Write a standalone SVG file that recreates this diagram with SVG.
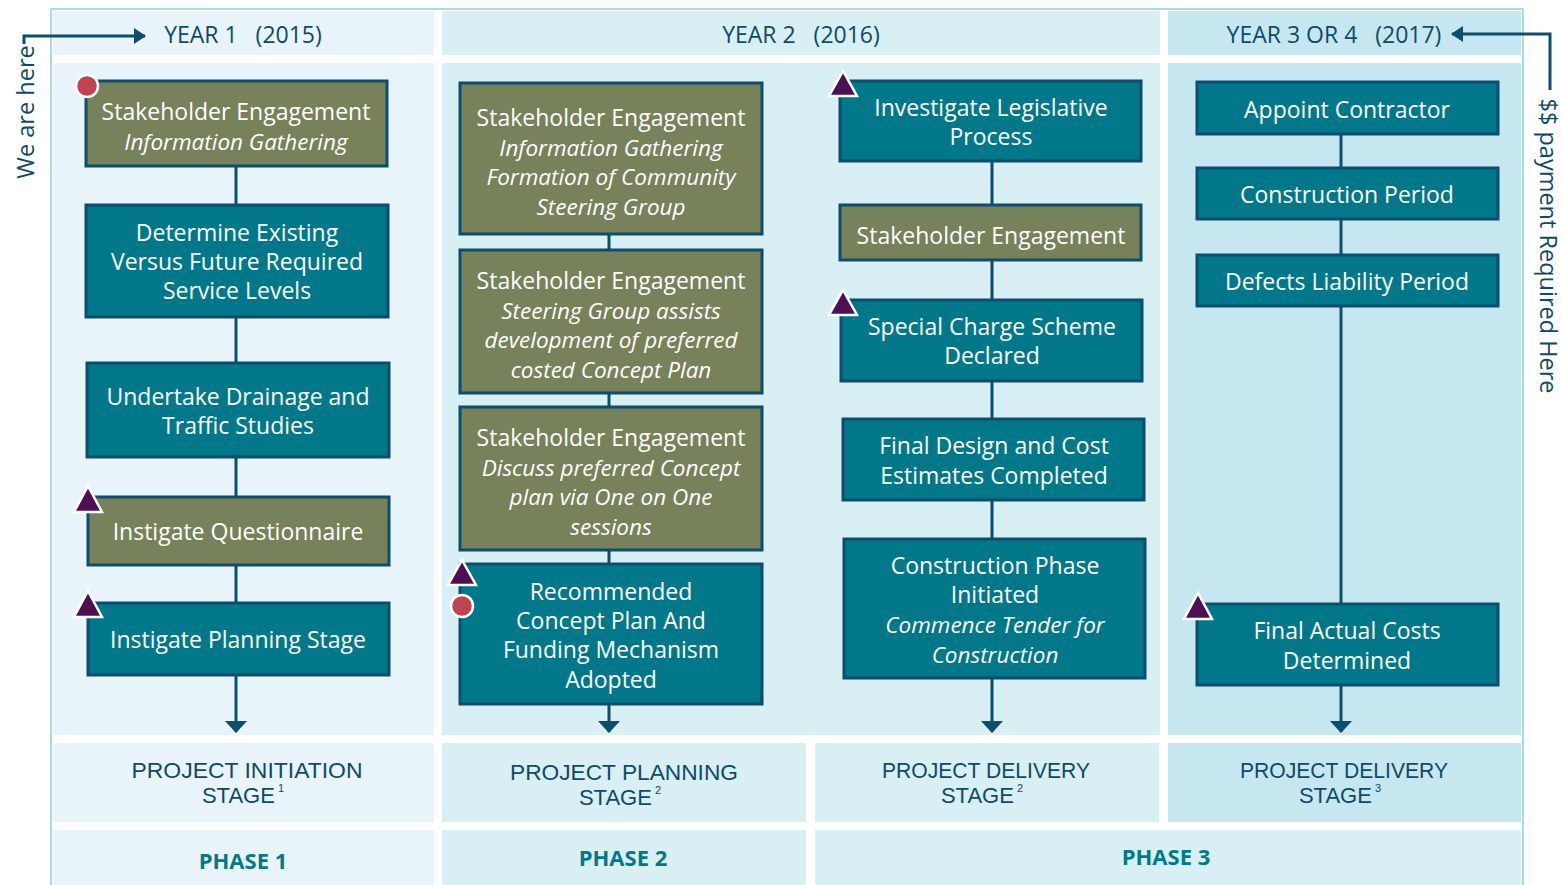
<svg xmlns="http://www.w3.org/2000/svg" width="1562" height="885" viewBox="0 0 1562 885">
<defs>
<style>
.c1{fill:#e8f4fa}.c2{fill:#d8eff4}.c3{fill:#c6e7ef}
.teal{fill:#00788a;stroke:#0d4d6d;stroke-width:3}
.olive{fill:#77815a;stroke:#0d4d6d;stroke-width:3}
.t{font-family:"Open Sans","DejaVu Sans",sans-serif;font-size:23px;fill:#ffffff;text-anchor:middle}
.i{font-style:italic;font-size:22.5px}
.hd{font-family:"Open Sans","DejaVu Sans",sans-serif;font-size:23px;fill:#0d4a6b;text-anchor:middle}
.st{font-family:"Liberation Sans Narrow","Liberation Sans",sans-serif;font-size:22px;fill:#0d4a6b;text-anchor:middle}
.sup{font-size:11px}
.ph{font-family:"Open Sans","DejaVu Sans",sans-serif;font-size:22px;font-weight:bold;fill:#00798b;text-anchor:middle}
.ln{stroke:#0d4d6d;stroke-width:3;fill:none}
.tri{fill:#4f0f55;stroke:#ffffff;stroke-width:2.5;stroke-linejoin:miter}
.dot{fill:#c2434f;stroke:#ffffff;stroke-width:2.5}
</style>
<marker id="ah" viewBox="0 0 12 22" refX="11" refY="11" markerWidth="12" markerHeight="22" markerUnits="userSpaceOnUse" orient="auto">
<path d="M0,0 L12,11 L0,22 Z" fill="#0d4d6d"/>
</marker>
<marker id="ahs" viewBox="0 0 12 16" refX="11" refY="8" markerWidth="12" markerHeight="16" markerUnits="userSpaceOnUse" orient="auto">
<path d="M0,0 L12,8 L0,16 Z" fill="#0d4d6d"/>
</marker>
</defs>
<rect x="0" y="0" width="1562" height="885" fill="#ffffff"/>
<g id="frame">
<rect x="51" y="9" width="1472" height="890" fill="none" stroke="#a8dbe6" stroke-width="2"/>
<rect class="c1" x="53" y="11" width="381" height="44"/>
<rect class="c2" x="442" y="11" width="718" height="44"/>
<rect class="c3" x="1168" y="11" width="353" height="44"/>
<rect class="c1" x="53" y="63" width="381" height="672"/>
<rect class="c2" x="442" y="63" width="718" height="672"/>
<rect class="c3" x="1168" y="63" width="353" height="672"/>
<rect class="c1" x="53" y="743" width="381" height="79"/>
<rect class="c2" x="442" y="743" width="364" height="79"/>
<rect class="c2" x="815" y="743" width="344" height="79"/>
<rect class="c3" x="1168" y="743" width="353" height="79"/>
<rect class="c1" x="53" y="830" width="381" height="55"/>
<rect class="c2" x="442" y="830" width="364" height="55"/>
<rect class="c2" x="815" y="830" width="706" height="55"/>
</g>
<g id="headers">
<text class="hd" x="243" y="43" xml:space="preserve">YEAR 1   (2015)</text>
<text class="hd" x="801" y="43" xml:space="preserve">YEAR 2   (2016)</text>
<text class="hd" x="1334" y="43" xml:space="preserve">YEAR 3 OR 4   (2017)</text>
</g>
<g id="side-notes">
<path class="ln" d="M24,44 V36 H145" stroke-width="2.5" marker-end="url(#ahs)"/>
<text font-family="Open Sans, DejaVu Sans, sans-serif" font-size="23.5" fill="#0d4a6b" text-anchor="middle" transform="translate(34,112) rotate(-90)">We are here</text>
<path class="ln" d="M1550,90 V34 H1452" stroke-width="2.5" marker-end="url(#ahs)"/>
<text font-family="Open Sans, DejaVu Sans, sans-serif" font-size="23.5" fill="#0d4a6b" text-anchor="middle" transform="translate(1540,246) rotate(90)">$$ payment Required Here</text>
</g>
<g id="connectors">
<path class="ln" d="M236,166 V204 M236,317 V362 M236,457 V496 M236,565 V602"/>
<path class="ln" d="M236,675 V732" marker-end="url(#ah)"/>
<path class="ln" d="M609,234 V249 M609,393 V406 M609,550 V563"/>
<path class="ln" d="M609,704 V732" marker-end="url(#ah)"/>
<path class="ln" d="M992,161 V204 M992,260 V299 M992,381 V418 M992,500 V538"/>
<path class="ln" d="M992,678 V732" marker-end="url(#ah)"/>
<path class="ln" d="M1341,134 V167 M1341,219 V254 M1341,306 V603"/>
<path class="ln" d="M1341,685 V732" marker-end="url(#ah)"/>
</g>
<g id="n1"><rect class="olive" x="86" y="81" width="301" height="85"/>
<text class="t" x="236" y="120">Stakeholder Engagement</text>
<text class="t i" x="236" y="150">Information Gathering</text></g>
<g id="n2"><rect class="teal" x="86" y="205" width="302" height="112"/>
<text class="t" x="237" y="241">Determine Existing</text>
<text class="t" x="237" y="270">Versus Future Required</text>
<text class="t" x="237" y="299">Service Levels</text></g>
<g id="n3"><rect class="teal" x="87" y="363" width="302" height="94"/>
<text class="t" x="238" y="405">Undertake Drainage and</text>
<text class="t" x="238" y="434">Traffic Studies</text></g>
<g id="n4"><rect class="olive" x="88" y="497" width="301" height="68"/>
<text class="t" x="238" y="540">Instigate Questionnaire</text></g>
<g id="n5"><rect class="teal" x="88" y="603" width="301" height="72"/>
<text class="t" x="238" y="648">Instigate Planning Stage</text></g>
<g id="n6"><rect class="olive" x="460" y="83" width="302" height="151"/>
<text class="t" x="611" y="126">Stakeholder Engagement</text>
<text class="t i" x="611" y="156">Information Gathering</text>
<text class="t i" x="611" y="185">Formation of Community</text>
<text class="t i" x="611" y="215">Steering Group</text></g>
<g id="n7"><rect class="olive" x="460" y="250" width="302" height="143"/>
<text class="t" x="611" y="289">Stakeholder Engagement</text>
<text class="t i" x="611" y="319">Steering Group assists</text>
<text class="t i" x="611" y="348">development of preferred</text>
<text class="t i" x="611" y="378">costed Concept Plan</text></g>
<g id="n8"><rect class="olive" x="460" y="407" width="302" height="143"/>
<text class="t" x="611" y="446">Stakeholder Engagement</text>
<text class="t i" x="611" y="476">Discuss preferred Concept</text>
<text class="t i" x="611" y="505">plan via One on One</text>
<text class="t i" x="611" y="535">sessions</text></g>
<g id="n9"><rect class="teal" x="460" y="564" width="302" height="140"/>
<text class="t" x="611" y="600">Recommended</text>
<text class="t" x="611" y="629">Concept Plan And</text>
<text class="t" x="611" y="658">Funding Mechanism</text>
<text class="t" x="611" y="688">Adopted</text></g>
<g id="n10"><rect class="teal" x="840" y="81" width="301" height="80"/>
<text class="t" x="991" y="116">Investigate Legislative</text>
<text class="t" x="991" y="145">Process</text></g>
<g id="n11"><rect class="olive" x="840" y="205" width="301" height="55"/>
<text class="t" x="991" y="244">Stakeholder Engagement</text></g>
<g id="n12"><rect class="teal" x="841" y="300" width="301" height="81"/>
<text class="t" x="992" y="335">Special Charge Scheme</text>
<text class="t" x="992" y="364">Declared</text></g>
<g id="n13"><rect class="teal" x="843" y="419" width="301" height="81"/>
<text class="t" x="994" y="454">Final Design and Cost</text>
<text class="t" x="994" y="484">Estimates Completed</text></g>
<g id="n14"><rect class="teal" x="844" y="539" width="301" height="139"/>
<text class="t" x="995" y="574">Construction Phase</text>
<text class="t" x="995" y="603">Initiated</text>
<text class="t i" x="995" y="633">Commence Tender for</text>
<text class="t i" x="995" y="663">Construction</text></g>
<g id="n15"><rect class="teal" x="1197" y="82" width="301" height="52"/>
<text class="t" x="1347" y="118">Appoint Contractor</text></g>
<g id="n16"><rect class="teal" x="1197" y="168" width="301" height="51"/>
<text class="t" x="1347" y="203">Construction Period</text></g>
<g id="n17"><rect class="teal" x="1197" y="255" width="301" height="51"/>
<text class="t" x="1347" y="290">Defects Liability Period</text></g>
<g id="n18"><rect class="teal" x="1197" y="604" width="301" height="81"/>
<text class="t" x="1347" y="639">Final Actual Costs</text>
<text class="t" x="1347" y="669">Determined</text></g>
<g id="markers">
<circle class="dot" cx="87" cy="86" r="11"/>
<polygon class="tri" points="88,486 74,512 102,512"/>
<polygon class="tri" points="88,591 74,617 102,617"/>
<polygon class="tri" points="462,560 448,585 476,585"/>
<circle class="dot" cx="462" cy="606" r="11"/>
<polygon class="tri" points="843,71 829,96 857,96"/>
<polygon class="tri" points="843,290 829,315 857,315"/>
<polygon class="tri" points="1198,593 1184,619 1212,619"/>
</g>
<g id="stages">
<text class="st" x="247" y="778" textLength="231" lengthAdjust="spacingAndGlyphs">PROJECT INITIATION</text>
<text class="st" x="243" y="803">STAGE<tspan class="sup" dy="-11"> 1</tspan></text>
<text class="st" x="624" y="780" textLength="228" lengthAdjust="spacingAndGlyphs">PROJECT PLANNING</text>
<text class="st" x="620" y="805">STAGE<tspan class="sup" dy="-11"> 2</tspan></text>
<text class="st" x="986" y="778" textLength="208" lengthAdjust="spacingAndGlyphs">PROJECT DELIVERY</text>
<text class="st" x="982" y="803">STAGE<tspan class="sup" dy="-11"> 2</tspan></text>
<text class="st" x="1344" y="778" textLength="208" lengthAdjust="spacingAndGlyphs">PROJECT DELIVERY</text>
<text class="st" x="1340" y="803">STAGE<tspan class="sup" dy="-11"> 3</tspan></text>
</g>
<g id="phases">
<text class="ph" x="243" y="869">PHASE 1</text>
<text class="ph" x="623" y="866">PHASE 2</text>
<text class="ph" x="1166" y="865">PHASE 3</text>
</g>
</svg>
